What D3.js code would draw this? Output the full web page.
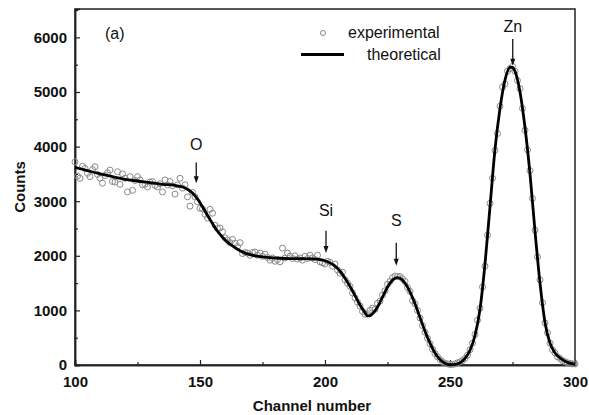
<!DOCTYPE html>
<html>
<head>
<meta charset="utf-8">
<script src="https://cdn.jsdelivr.net/npm/d3@7"></script>
<style>
  body { margin: 0; background: #fff; }
  svg { display: block; font-family: "Liberation Sans", Arial, sans-serif; }
</style>
</head>
<body>
<svg id="chart" width="589" height="415"></svg>
<script>
// experimental counts, one per channel from 100 to 300
var expChannels = d3.range(100, 301);
var expCounts = [
  3720, 3460, 3420, 3640, 3600, 3510, 3450, 3580, 3630, 3490,
  3420, 3330, 3470, 3520, 3570, 3360, 3350, 3540, 3310, 3500,
  3420, 3170, 3450, 3200, 3380, 3450, 3390, 3300, 3310, 3260,
  3350, 3360, 3290, 3260, 3320, 3170, 3390, 3300, 3360, 3280,
  3130, 3300, 3420, 3240, 3300, 3080, 2910, 3160, 3080, 2990,
  2870, 2860, 2760, 2690, 2850, 2780, 2560, 2500, 2510, 2440,
  2330, 2290, 2240, 2300, 2230, 2170, 2240, 2040, 2060, 2050,
  2010, 2060, 2070, 2010, 2050, 1990, 2030, 1970, 1920, 1960,
  1900, 1930, 1890, 2140, 1960, 2050, 1990, 1950, 2000, 1940,
  1960, 1920, 1990, 1950, 2010, 1960, 1930, 2010, 1890, 1870,
  1850, 1900, 1880, 1810, 1850, 1740, 1680, 1700, 1560, 1500,
  1440, 1320, 1230, 1150, 1080, 980, 930, 940, 1000, 1040,
  1020, 1130, 1170, 1280, 1360, 1480, 1530, 1600, 1630, 1620,
  1620, 1580, 1530, 1420, 1350, 1180, 1120, 1000, 860, 720,
  600, 490, 390, 290, 210, 150, 100, 60, 30, 20,
  10, 10, 20, 40, 60, 80, 120, 180, 280, 400,
  560, 820, 1040, 1430, 1810, 2380, 2960, 3420, 3930, 4240,
  4740, 5090, 5150, 5380, 5430, 5470, 5380, 5210, 5060, 4700,
  4300, 3940, 3560, 3050, 2470, 1980, 1560, 1140, 770, 590,
  400, 280, 220, 150, 120, 80, 60, 40, 30, 20,
  20
];

// fitted (theoretical) curve, knots
var theoChannels = [
  100, 105, 110, 115, 120, 125, 130, 135, 140, 143,
  145, 147, 149, 151, 153, 155, 157, 159, 161, 163,
  165, 167, 170, 174, 178, 182, 186, 190, 194, 198,
  200, 202, 204, 206, 208, 210, 212, 214, 216, 217,
  218, 220, 222, 224, 226, 228, 229, 230, 232, 234,
  236, 238, 240, 242, 244, 246, 248, 250, 252, 254,
  256, 258, 260, 262, 264, 266, 268, 270, 272, 274,
  275, 276, 278, 280, 282, 284, 286, 288, 290, 292,
  294, 296, 298, 300
];
var theoCounts = [
  3620, 3560, 3500, 3450, 3400, 3370, 3340, 3310, 3290, 3260,
  3220, 3150, 3040, 2900, 2740, 2590, 2450, 2340, 2250, 2180,
  2120, 2070, 2020, 1985, 1965, 1955, 1950, 1950, 1945, 1930,
  1910, 1870, 1810, 1720, 1590, 1440, 1270, 1100, 960, 900,
  905, 990, 1150, 1340, 1500, 1590, 1600, 1590, 1500, 1340,
  1120, 870, 620, 400, 220, 100, 30, 5, 10, 40,
  120, 270, 540, 1020, 1850, 2900, 3950, 4700, 5220, 5450,
  5450, 5380, 5000, 4350, 3500, 2450, 1500, 780, 400, 220,
  130, 70, 35, 15
];

var xTicks = [100, 150, 200, 250, 300];
var xMinorTicks = [125, 175, 225, 275];
var yTicks = [0, 1000, 2000, 3000, 4000, 5000, 6000];
var yMinorTicks = [500, 1500, 2500, 3500, 4500, 5500, 6500];

var peakLabels = ["O", "Si", "S", "Zn"];
var peakChannels = [148.5, 200.4, 228.5, 275.1];
var peakTextCounts = [3930, 2730, 2540, 6090];
var peakArrowTop = [3710, 2460, 2240, 5970];
var peakArrowTip = [3330, 2050, 1820, 5480];

var svg = d3.select("svg#chart");

var x = d3.scaleLinear().domain([100, 300]).range([75, 575]);
var y = d3.scaleLinear().domain([0, 6520]).range([365, 9]);

// frame
svg.append("rect")
  .attr("x", 75).attr("y", 9)
  .attr("width", 500).attr("height", 356)
  .attr("fill", "none")
  .attr("stroke", "#222")
  .attr("stroke-width", 1.5);

// axes, ticks point inward
svg.append("g")
  .attr("transform", "translate(0,365)")
  .call(d3.axisBottom(x).tickValues(xTicks).tickSize(-5).tickPadding(11).tickFormat(d3.format("d")));
svg.append("g")
  .attr("transform", "translate(0,365)")
  .call(d3.axisBottom(x).tickValues(xMinorTicks).tickSize(-3).tickFormat(""));

svg.append("g")
  .attr("transform", "translate(75,0)")
  .call(d3.axisLeft(y).tickValues(yTicks).tickSize(-5).tickPadding(8).tickFormat(d3.format("d")));
svg.append("g")
  .attr("transform", "translate(75,0)")
  .call(d3.axisLeft(y).tickValues(yMinorTicks).tickSize(-3).tickFormat(""));

svg.selectAll(".domain").attr("stroke", "#222").attr("stroke-width", 1.5);
svg.selectAll(".tick line").attr("stroke", "#222").attr("stroke-width", 1.2);
svg.selectAll(".tick text")
  .attr("font-family", "Liberation Sans, Arial, sans-serif")
  .attr("font-size", 15)
  .attr("font-weight", "bold")
  .attr("fill", "#111");

// axis titles
svg.append("text")
  .attr("x", 312).attr("y", 411)
  .attr("text-anchor", "middle")
  .attr("font-size", 15).attr("font-weight", "bold")
  .attr("fill", "#111")
  .text("Channel number");

svg.append("text")
  .attr("transform", "translate(25,187) rotate(-90)")
  .attr("text-anchor", "middle")
  .attr("font-size", 15).attr("font-weight", "bold")
  .attr("fill", "#111")
  .text("Counts");

// experimental points
svg.append("g")
  .selectAll("circle")
  .data(expCounts)
  .enter()
  .append("circle")
  .attr("cx", (d, i) => x(expChannels[i]))
  .attr("cy", (d) => y(d))
  .attr("r", 3)
  .attr("fill", "none")
  .attr("stroke", "#8a8a8a")
  .attr("stroke-width", 1);

// theoretical curve
var line = d3.line()
  .x((d, i) => x(theoChannels[i]))
  .y((d) => y(d))
  .curve(d3.curveMonotoneX);

svg.append("path")
  .attr("d", line(theoCounts))
  .attr("fill", "none")
  .attr("stroke", "#000")
  .attr("stroke-width", 2.8);

// peak labels + arrows
var ann = svg.append("g")
  .selectAll("g")
  .data(peakLabels)
  .enter()
  .append("g");

ann.append("text")
  .attr("x", (d, i) => x(peakChannels[i]))
  .attr("y", (d, i) => y(peakTextCounts[i]))
  .attr("text-anchor", "middle")
  .attr("font-size", 16)
  .attr("fill", "#111")
  .text((d) => d);

ann.append("line")
  .attr("x1", (d, i) => x(peakChannels[i]))
  .attr("x2", (d, i) => x(peakChannels[i]))
  .attr("y1", (d, i) => y(peakArrowTop[i]))
  .attr("y2", (d, i) => y(peakArrowTip[i]) - 5)
  .attr("stroke", "#111")
  .attr("stroke-width", 1.3);

ann.append("path")
  .attr("d", (d, i) => {
    var px = x(peakChannels[i]), py = y(peakArrowTip[i]);
    return "M" + (px - 2.5) + "," + (py - 7) + "L" + (px + 2.5) + "," + (py - 7) + "L" + px + "," + py + "Z";
  })
  .attr("fill", "#111");

// legend
svg.append("circle")
  .attr("cx", 323).attr("cy", 33).attr("r", 2.5)
  .attr("fill", "none").attr("stroke", "#8a8a8a").attr("stroke-width", 1);
svg.append("text")
  .attr("x", 348).attr("y", 38)
  .attr("font-size", 16).attr("fill", "#111")
  .text("experimental");
svg.append("line")
  .attr("x1", 301).attr("x2", 344)
  .attr("y1", 54.5).attr("y2", 54.5)
  .attr("stroke", "#000").attr("stroke-width", 2.8);
svg.append("text")
  .attr("x", 367).attr("y", 60)
  .attr("font-size", 16).attr("fill", "#111")
  .text("theoretical");

svg.append("text")
  .attr("x", 105).attr("y", 39)
  .attr("font-size", 16).attr("fill", "#111")
  .text("(a)");
</script>
</body>
</html>
